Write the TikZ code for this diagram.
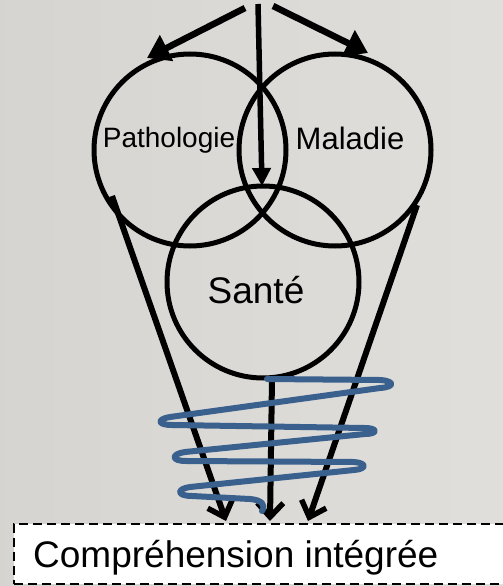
\documentclass[tikz,border=0pt]{standalone}
\usepackage{fontspec}
\setmainfont{Liberation Sans}
\usetikzlibrary{arrows.meta}
\definecolor{paper}{RGB}{221,219,215}
\definecolor{coil}{RGB}{58,96,142}
\begin{document}
\begin{tikzpicture}[x=1pt,y=-1pt,
  ring/.style={circle,draw=black,line width=5pt,minimum size=192pt,inner sep=0pt},
  lbl/.style={inner sep=0pt,font=\fontsize{#1}{#1}\selectfont},
  toparrow/.style={line width=6.5pt,-{Triangle[length=22pt,width=28pt]}},
  downarrow/.style={line width=6pt,-{Straight Barb[length=14pt,width=26pt,line width=5.5pt]}},
  spiral/.style={draw=coil,line width=6pt,line cap=round,line join=round}]
\clip (0,0) rectangle (503,586);
\useasboundingbox (0,0) rectangle (503,586);
\fill[left color=paper!97!black,right color=paper!90!white] (0,0) rectangle (503,586);

% result box at the bottom, running off the page on the right
\node[draw=black,dash pattern=on 9pt off 5pt,line width=1.8pt,fill=white,minimum width=600pt,minimum height=60pt,
      anchor=north west,inner sep=0pt] (result) at (13,523) {};
\node[lbl=37,anchor=base west] (restext) at (33,567) {Compréhension intégrée};

% the three overlapping circles
\node[ring] (patho) at (190,150) {};
\node[ring] (mala) at (335,150) {};
\node[ring] (sante) at (263,282) {};
\node[lbl=28,anchor=base] (pathotext) at (169,147) {Pathologie};
\node[lbl=31,anchor=base] (malatext) at (350,149) {Maladie};
\node[lbl=37,anchor=base] (santetext) at (256,303) {Santé};

% arrows from the top
\coordinate (srcL) at (245,8);
\coordinate (srcM) at (258,4);
\coordinate (srcR) at (273,6);
\coordinate (tipL) at (147,58);
\coordinate (tipR) at (368,53);
\coordinate (tipM) at (262,186);
\draw[toparrow] (srcL) -- (tipL);
\draw[toparrow] (srcR) -- (tipR);
\draw[line width=5.5pt,-{Triangle[length=18pt,width=18pt]}] (srcM) -- (tipM);

% arrows down to the result box
\coordinate (startL) at (112,196);
\coordinate (startR) at (417,205);
\coordinate (startM) at (272,378);
\coordinate (endL) at (226,521);
\coordinate (endM) at (270,521);
\coordinate (endR) at (308,521);
\draw[downarrow] (startL) -- (endL);
\draw[downarrow] (startM) -- (endM);
\draw[downarrow] (startR) -- (endR);

% blue coil around the downward arrows
\draw[spiral] (267,379) -- (380,380)
  .. controls (395,381) and (395,387) .. (380,388)
  -- (170,417)
  .. controls (157,419) and (157,425) .. (172,425)
  -- (365,428)
  .. controls (378,428) and (378,434) .. (365,434)
  -- (185,452)
  .. controls (171,454) and (171,461) .. (186,461)
  -- (354,462)
  .. controls (367,463) and (367,469) .. (354,470)
  -- (190,487)
  .. controls (176,489) and (177,496) .. (192,496)
  -- (250,499)
  .. controls (262,500) and (266,505) .. (262,511);
\end{tikzpicture}
\end{document}
